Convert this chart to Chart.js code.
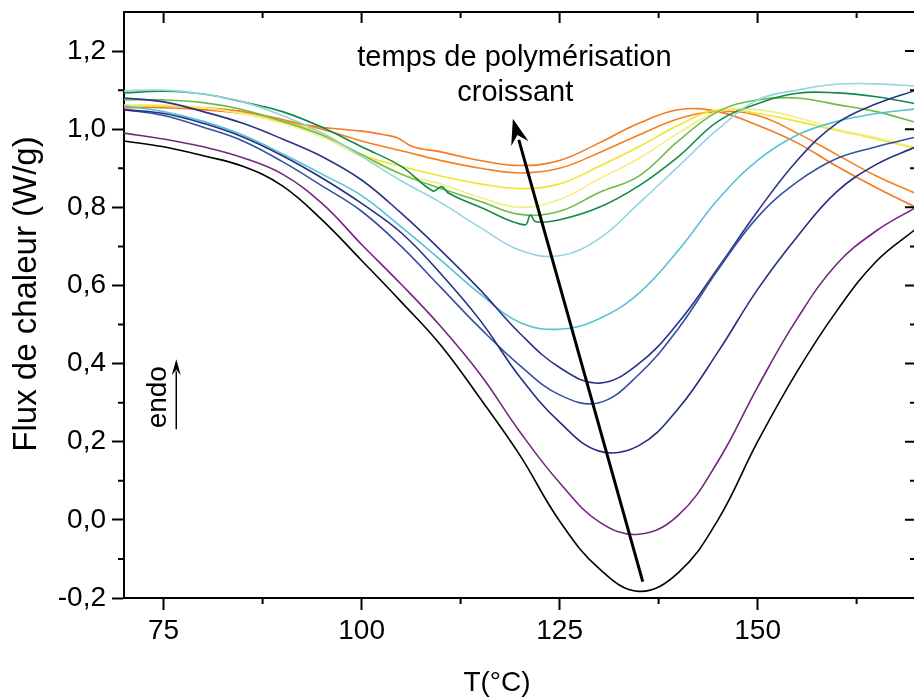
<!DOCTYPE html>
<html>
<head>
<meta charset="utf-8">
<script src="https://cdn.jsdelivr.net/npm/chart.js@4"></script>
<style>
body{margin:0;overflow:hidden;background:#fff}
canvas{display:block}
</style>
</head>
<body>
<canvas id="dsc" width="920" height="697"></canvas>
<script>
// temperature grid (°C)
const temps = [70,75,80,85,90,95,100,105,110,115,120,125,130,135,140,145,150,155,160,165,170];

// heat flow (W/g), one list per polymerisation time
const black   = [0.97,0.955,0.932,0.905,0.855,0.768,0.664,0.558,0.447,0.31,0.165,-0.003,-0.125,-0.183,-0.135,0.0,0.2,0.38,0.535,0.662,0.745];
const purple  = [0.99,0.975,0.955,0.927,0.885,0.81,0.705,0.603,0.495,0.372,0.225,0.095,-0.005,-0.037,0.012,0.15,0.34,0.515,0.655,0.74,0.8];
const navyC   = [1.05,1.04,1.015,0.98,0.932,0.875,0.81,0.735,0.63,0.51,0.365,0.25,0.176,0.19,0.285,0.43,0.59,0.725,0.84,0.91,0.955];
const blueB   = [1.05,1.035,1.005,0.97,0.917,0.855,0.79,0.7,0.595,0.49,0.395,0.32,0.3,0.372,0.49,0.64,0.775,0.865,0.925,0.955,0.98];
const navyA   = [1.08,1.07,1.045,1.015,0.975,0.93,0.87,0.785,0.69,0.588,0.477,0.39,0.35,0.4,0.505,0.645,0.79,0.92,1.015,1.065,1.1];
const cyanD   = [1.06,1.045,1.02,0.985,0.937,0.885,0.83,0.75,0.665,0.578,0.505,0.488,0.515,0.58,0.69,0.82,0.92,0.985,1.02,1.04,1.052];
const lightE  = [1.098,1.1,1.09,1.07,1.035,0.99,0.93,0.868,0.812,0.748,0.69,0.676,0.72,0.81,0.905,1.0,1.075,1.1,1.115,1.116,1.11];
const green   = [1.075,1.075,1.068,1.05,1.02,0.985,0.935,0.885,0.848,0.815,0.782,0.79,0.838,0.88,0.97,1.045,1.075,1.08,1.063,1.045,1.017];
const lightY  = [1.062,1.062,1.055,1.04,1.015,0.98,0.93,0.885,0.86,0.825,0.8,0.82,0.873,0.925,0.99,1.045,1.05,1.03,1.0,0.978,0.953];
const yellow  = [1.06,1.06,1.055,1.04,1.02,0.99,0.935,0.905,0.88,0.86,0.848,0.86,0.905,0.955,1.01,1.05,1.04,1.02,0.997,0.975,0.95];
const orange2 = [1.06,1.06,1.055,1.045,1.025,1.0,0.97,0.945,0.92,0.9,0.888,0.9,0.94,0.985,1.027,1.045,1.035,0.99,0.935,0.88,0.835];

// the two noisier runs have their own grids (small glitches)
const dgTemps = [70,75,80,85,90,95,100,105,109,110.1,111,115,120.6,121.3,122,125,130,135,140,145,150,155,160,165,170];
const darkG   = [1.093,1.097,1.09,1.07,1.045,1.005,0.955,0.905,0.842,0.853,0.836,0.8,0.755,0.78,0.763,0.768,0.8,0.855,0.93,1.02,1.065,1.092,1.093,1.083,1.065];
const o1Temps = [70,75,80,85,90,95,100,103,104.5,106.5,110,115,120,125,130,135,140,145,150,155,160,165,170];
const orange1 = [1.055,1.055,1.05,1.04,1.02,1.005,0.995,0.985,0.978,0.955,0.942,0.92,0.907,0.92,0.965,1.015,1.05,1.045,1.01,0.965,0.905,0.85,0.8];

const xMajor = [75,100,125,150];
const xMinor = [87.5,112.5,137.5,162.5];
const yMajor = [-0.2,0,0.2,0.4,0.6,0.8,1.0,1.2];
const yMinor = [-0.1,0.1,0.3,0.5,0.7,0.9,1.1];

const FONT = '"Liberation Sans", Arial, sans-serif';

function pts(xs, ys) { return xs.map((t, i) => ({x: t, y: ys[i]})); }

const runs = [
  [temps, black, '#000000'],
  [temps, purple, '#74267f'],
  [temps, navyC, '#262e7e'],
  [temps, blueB, '#3550a0'],
  [temps, navyA, '#2a3388'],
  [temps, cyanD, '#55c3d6'],
  [temps, lightE, '#92d5e3'],
  [dgTemps, darkG, '#138a43'],
  [temps, green, '#6cbb47'],
  [temps, lightY, '#f4ee86'],
  [temps, yellow, '#efe52b'],
  [temps, orange2, '#f4801f'],
  [o1Temps, orange1, '#f47920']
];

const frame = {
  id: 'frame',
  afterDraw(chart) {
    const {ctx, chartArea: a, scales: {x, y}} = chart;
    ctx.save();
    ctx.strokeStyle = '#000';
    ctx.lineWidth = 2;
    ctx.beginPath();
    ctx.moveTo(a.left, a.top); ctx.lineTo(a.right, a.top); ctx.lineTo(a.right, a.bottom);
    // minor ticks outside on bottom / left
    xMinor.forEach(v => { const p = x.getPixelForValue(v); ctx.moveTo(p, a.bottom); ctx.lineTo(p, a.bottom + 6); });
    yMinor.forEach(v => { const p = y.getPixelForValue(v); ctx.moveTo(a.left, p); ctx.lineTo(a.left - 6, p); });
    // mirrored ticks inside on top / right
    xMajor.forEach(v => { const p = x.getPixelForValue(v); ctx.moveTo(p, a.top); ctx.lineTo(p, a.top + 11); });
    xMinor.forEach(v => { const p = x.getPixelForValue(v); ctx.moveTo(p, a.top); ctx.lineTo(p, a.top + 6); });
    yMajor.forEach(v => { const p = y.getPixelForValue(v); ctx.moveTo(a.right, p); ctx.lineTo(a.right - 11, p); });
    yMinor.forEach(v => { const p = y.getPixelForValue(v); ctx.moveTo(a.right, p); ctx.lineTo(a.right - 6, p); });
    ctx.stroke();

    // titles
    ctx.fillStyle = '#000';
    ctx.textAlign = 'center';
    ctx.textBaseline = 'middle';
    ctx.font = '28px ' + FONT;
    ctx.fillText('T(°C)', 497, 683);
    ctx.save();
    ctx.translate(27, 294);
    ctx.rotate(-Math.PI / 2);
    ctx.font = '33px ' + FONT;
    ctx.fillText('Flux de chaleur (W/g)', 0, 0);
    ctx.restore();

    // annotation
    ctx.font = '29px ' + FONT;
    ctx.fillText('temps de polymérisation', x.getPixelForValue(119.3), y.getPixelForValue(1.183));
    ctx.fillText('croissant', x.getPixelForValue(119.4), y.getPixelForValue(1.093));
    arrow(ctx, x.getPixelForValue(135.5), y.getPixelForValue(-0.158), x.getPixelForValue(119.1), y.getPixelForValue(1.027), 3, 26, 9);

    ctx.font = '28px ' + FONT;
    ctx.save();
    ctx.translate(x.getPixelForValue(74.3), y.getPixelForValue(0.314));
    ctx.rotate(-Math.PI / 2);
    ctx.fillText('endo', 0, 0);
    ctx.restore();
    arrow(ctx, x.getPixelForValue(76.6), y.getPixelForValue(0.232), x.getPixelForValue(76.6), y.getPixelForValue(0.411), 1.5, 16, 4.5);
    ctx.restore();
  }
};

function arrow(ctx, x0, y0, x1, y1, w, headLen, headHalf) {
  const ang = Math.atan2(y1 - y0, x1 - x0);
  const bx = x1 - headLen * Math.cos(ang), by = y1 - headLen * Math.sin(ang);
  ctx.save();
  ctx.lineWidth = w;
  ctx.strokeStyle = '#000';
  ctx.fillStyle = '#000';
  ctx.beginPath(); ctx.moveTo(x0, y0); ctx.lineTo(bx + 4 * Math.cos(ang), by + 4 * Math.sin(ang)); ctx.stroke();
  ctx.beginPath();
  ctx.moveTo(x1, y1);
  ctx.lineTo(bx + headHalf * Math.sin(ang), by - headHalf * Math.cos(ang));
  ctx.lineTo(bx + 0.35 * headLen * Math.cos(ang), by + 0.35 * headLen * Math.sin(ang));
  ctx.lineTo(bx - headHalf * Math.sin(ang), by + headHalf * Math.cos(ang));
  ctx.closePath();
  ctx.fill();
  ctx.restore();
}

new Chart(document.getElementById('dsc'), {
  type: 'line',
  data: {
    datasets: runs.map(([xs, ys, c]) => ({
      data: pts(xs, ys),
      borderColor: c,
      borderWidth: 1.6,
      pointRadius: 0,
      fill: false,
      tension: 0.4
    }))
  },
  options: {
    responsive: false,
    animation: false,
    devicePixelRatio: 1,
    layout: {padding: {left: 0, top: 12, right: 4, bottom: 0}},
    plugins: {legend: {display: false}, tooltip: {enabled: false}},
    scales: {
      x: {
        type: 'linear', min: 70, max: 170,
        afterBuildTicks: s => { s.ticks = xMajor.map(v => ({value: v})); },
        afterFit: s => { s.height = 99; s.paddingLeft = 0; s.paddingRight = 0; },
        border: {display: true, color: '#000', width: 2},
        grid: {drawOnChartArea: false, drawTicks: true, tickLength: 12, tickWidth: 2, tickColor: '#000'},
        ticks: {color: '#000', font: {family: FONT, size: 28}, padding: 4, maxRotation: 0}
      },
      y: {
        type: 'linear', min: -0.2, max: 1.3,
        afterBuildTicks: s => { s.ticks = yMajor.map(v => ({value: v})); },
        afterFit: s => { s.width = 124; s.paddingTop = 0; s.paddingBottom = 0; },
        border: {display: true, color: '#000', width: 2},
        grid: {drawOnChartArea: false, drawTicks: true, tickLength: 12, tickWidth: 2, tickColor: '#000'},
        ticks: {color: '#000', font: {family: FONT, size: 28}, padding: 6,
                callback: v => v.toFixed(1).replace('.', ',')}
      }
    }
  },
  plugins: [frame]
});
</script>
</body>
</html>
